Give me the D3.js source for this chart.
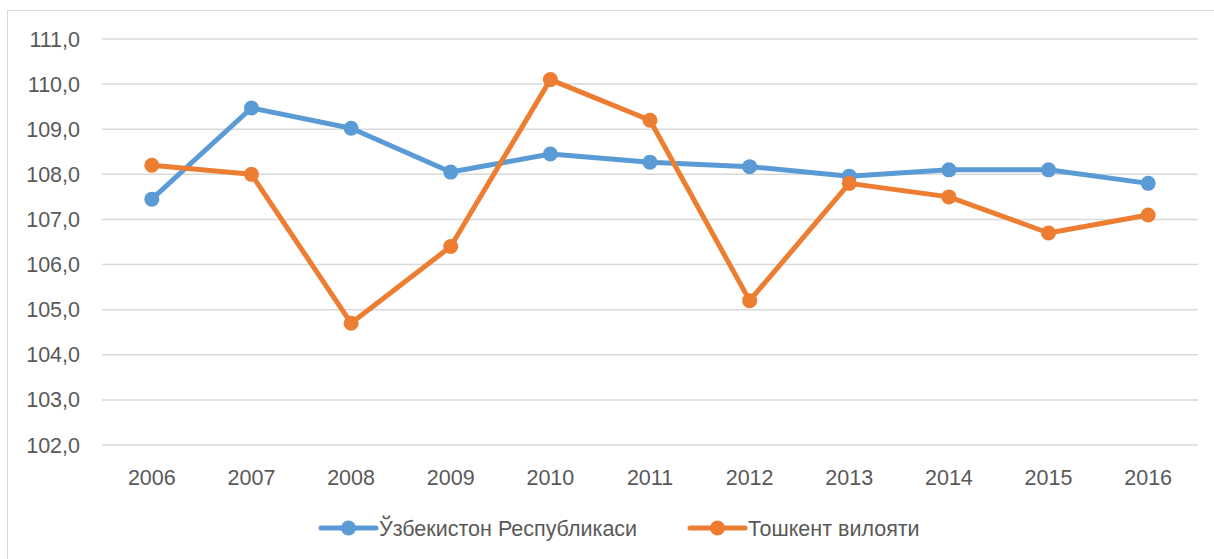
<!DOCTYPE html>
<html>
<head>
  <meta charset="utf-8" />
  <title>Chart</title>
  <script src="https://d3js.org/d3.v7.min.js"></script>
</head>
<body>
  <div id='graph'></div>
</body>
<style>
  body { margin: 0; background: #fff; }
  text { font-family: 'Liberation Sans', 'DejaVu Sans', sans-serif; fill: #595959; }
</style>
<script>
  // data
  const years = ['2006','2007','2008','2009','2010','2011','2012','2013','2014','2015','2016']
  const uzbekistan = [107.45, 109.47, 109.02, 108.05, 108.45, 108.27, 108.17, 107.96, 108.1, 108.1, 107.8]
  const tashkent = [108.2, 108.0, 104.7, 106.4, 110.1, 109.2, 105.2, 107.8, 107.5, 106.7, 107.1]
  const yTicks = [102, 103, 104, 105, 106, 107, 108, 109, 110, 111]
  const seriesNames = ['Ўзбекистон Республикаси', 'Тошкент вилояти']
  const colors = ['#5B9BD5', '#ED7D31']

  const W = 1214, H = 559
  const plot = {left: 102, right: 1198, top: 39, bottom: 445}
  const fontSize = 21.5

  const svg = d3.select('#graph').append('svg')
    .attr('width', W)
    .attr('height', H)

  // chart border
  svg.append('rect')
    .attr('x', 7.5).attr('y', 10.5)
    .attr('width', W + 10).attr('height', H + 10)
    .attr('fill', 'none')
    .attr('stroke', '#d9d9d9')
    .attr('stroke-width', 1)

  const x = d3.scalePoint().domain(years).range([plot.left, plot.right]).padding(0.5)
  const y = d3.scaleLinear().domain([102, 111]).range([plot.bottom, plot.top])

  // gridlines
  svg.append('g')
    .selectAll('line')
    .data(yTicks)
    .enter()
    .append('line')
    .attr('x1', plot.left)
    .attr('x2', plot.right)
    .attr('y1', d => y(d))
    .attr('y2', d => y(d))
    .attr('stroke', '#d9d9d9')
    .attr('stroke-width', 1.5)

  // y labels
  const fmt = d => d.toFixed(1).replace('.', ',')
  svg.append('g')
    .selectAll('text')
    .data(yTicks)
    .enter()
    .append('text')
    .attr('x', 80)
    .attr('y', d => y(d))
    .attr('dy', '0.35em')
    .attr('text-anchor', 'end')
    .attr('font-size', fontSize)
    .text(fmt)

  // x labels
  svg.append('g')
    .selectAll('text')
    .data(years)
    .enter()
    .append('text')
    .attr('x', d => x(d))
    .attr('y', 485)
    .attr('text-anchor', 'middle')
    .attr('font-size', fontSize)
    .text(d => d)

  const line = d3.line()
    .x((d, i) => x(years[i]))
    .y(d => y(d))

  const allSeries = [uzbekistan, tashkent]
  allSeries.forEach((vals, s) => {
    svg.append('path')
      .datum(vals)
      .attr('fill', 'none')
      .attr('stroke', colors[s])
      .attr('stroke-width', 5)
      .attr('stroke-linejoin', 'round')
      .attr('stroke-linecap', 'round')
      .attr('d', line)

    svg.append('g')
      .selectAll('circle')
      .data(vals)
      .enter()
      .append('circle')
      .attr('cx', (d, i) => x(years[i]))
      .attr('cy', d => y(d))
      .attr('r', 7.5)
      .attr('fill', colors[s])
  })

  // legend
  const legendX = [321, 690]
  const legend = svg.append('g')
  seriesNames.forEach((name, s) => {
    const g = legend.append('g').attr('transform', 'translate(' + legendX[s] + ',528)')
    g.append('line')
      .attr('x1', 0).attr('x2', 55)
      .attr('stroke', colors[s])
      .attr('stroke-width', 5)
      .attr('stroke-linecap', 'round')
    g.append('circle')
      .attr('cx', 27.5).attr('r', 7.5)
      .attr('fill', colors[s])
    g.append('text')
      .attr('x', 58)
      .attr('dy', '0.35em')
      .attr('font-size', fontSize)
      .text(name)
  })
</script>
</html>
